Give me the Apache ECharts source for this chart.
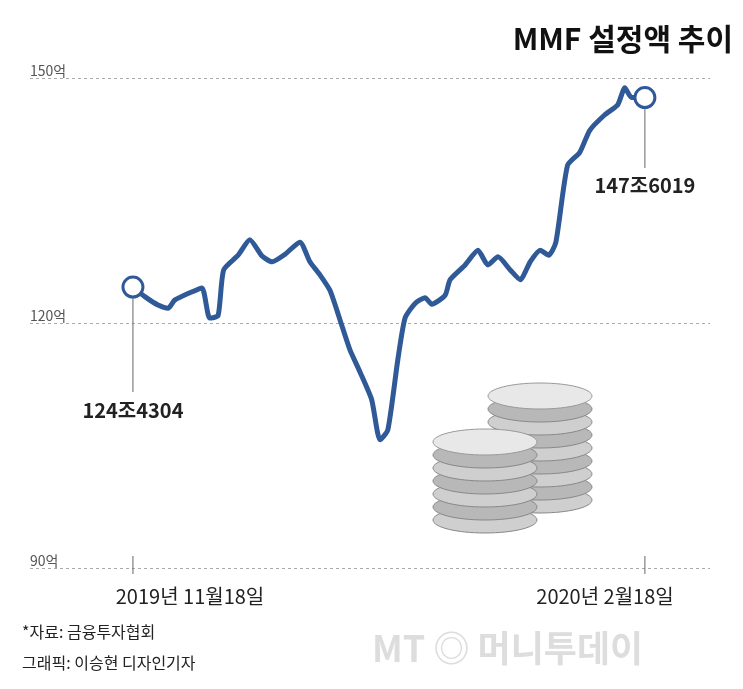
<!DOCTYPE html>
<html>
<head>
<meta charset="utf-8">
<script src="https://cdn.jsdelivr.net/npm/echarts@6/dist/echarts.min.js"></script>
<style>html,body{margin:0;padding:0;background:#fff}#c{width:743px;height:689px}</style>
</head>
<body>
<div id="c"></div>
<script>
// days since 2019-11-18 and fund balance
var days = [0, 2.2, 4.5, 6.3, 7.5, 10.2, 12.4, 13.8, 15.3, 16.3, 18.9, 21, 23.2, 25, 27.3, 30, 31.8, 33.6, 35.4, 37.2, 39, 40.8, 42.9, 44.4, 45.8, 47.6, 48.9, 50.7, 52.5, 53.7, 56.1, 57, 59.7, 62, 63.8, 65.6, 67.8, 69.6, 71.4, 73.2, 74.7, 76, 78.1, 80.3, 82.1, 84.8, 87.1, 88.4, 89.6, 92]
var values = [124.4, 123.2, 122.2, 121.8, 122.8, 123.7, 124.3, 120.6, 120.9, 126.5, 128.3, 130.2, 128.2, 127.5, 128.4, 129.9, 127.5, 125.9, 124.0, 120.4, 116.7, 114.0, 110.6, 105.7, 106.9, 115.5, 120.6, 122.4, 123.1, 122.3, 123.4, 125.3, 127.1, 128.9, 127.1, 128.1, 126.5, 125.3, 127.5, 128.9, 128.3, 129.9, 139.3, 140.9, 143.6, 145.5, 146.7, 148.8, 147.6, 147.6]
var yTicks = [90, 120, 150]
var dateLabels = ['2019년 11월18일', '2020년 2월18일']
var startLabel = '124조4304', endLabel = '147조6019'

var blue = '#2f5a97'
var chart = echarts.init(document.getElementById('c'))
var pts = days.map(function (d, i) { return [d, values[i]] })
var last = pts.length - 1
chart.setOption({
  animation: false,
  textStyle: { fontFamily: 'Noto Sans CJK KR' },
  grid: { left: 30, right: 33, top: 78, bottom: 121 },
  xAxis: { type: 'value', min: -18.5, max: 103.7, show: false },
  yAxis: {
    type: 'value', min: 90, max: 150, interval: 30,
    axisLine: { show: false }, axisTick: { show: false },
    axisLabel: { inside: true, verticalAlign: 'bottom', margin: 0, color: '#555', fontSize: 14,
      formatter: function (v) { return yTicks.indexOf(v) >= 0 ? v + '억' : '' } },
    splitLine: { lineStyle: { color: '#aaa', type: [3, 3] } }
  },
  series: [{
    type: 'line', data: pts, symbol: 'none', smooth: 0.2,
    lineStyle: { color: blue, width: 5 }, z: 3
  }, {
    type: 'scatter', data: [pts[0], pts[last]], symbolSize: 20, z: 4,
    itemStyle: { color: '#fff', borderColor: blue, borderWidth: 3, opacity: 1 }
  }]
})

var p0 = chart.convertToPixel({ gridIndex: 0 }, pts[0])
var p1 = chart.convertToPixel({ gridIndex: 0 }, pts[last])
var axisY = chart.convertToPixel({ gridIndex: 0 }, [0, 90])[1]
var g = [
  { type: 'line', shape: { x1: p0[0], y1: p0[1] + 10, x2: p0[0], y2: 392 }, style: { stroke: '#666', lineWidth: 1 } },
  { type: 'line', shape: { x1: p0[0], y1: axisY - 12, x2: p0[0], y2: axisY + 6 }, style: { stroke: '#666', lineWidth: 1 } },
  { type: 'line', shape: { x1: p1[0], y1: p1[1] + 10, x2: p1[0], y2: 168 }, style: { stroke: '#666', lineWidth: 1 } },
  { type: 'line', shape: { x1: p1[0], y1: axisY - 12, x2: p1[0], y2: axisY + 6 }, style: { stroke: '#666', lineWidth: 1 } },
  { type: 'text', x: p0[0], y: 410, style: { text: startLabel, fill: '#222', font: 'bold 20px "Noto Sans CJK KR"', align: 'center', verticalAlign: 'middle' } },
  { type: 'text', x: p1[0], y: 185, style: { text: endLabel, fill: '#222', font: 'bold 20px "Noto Sans CJK KR"', align: 'center', verticalAlign: 'middle' } },
  { type: 'text', x: 190, y: 596, style: { text: dateLabels[0], fill: '#222', font: '20px "Noto Sans CJK KR"', align: 'center', verticalAlign: 'middle' } },
  { type: 'text', x: 605, y: 596, style: { text: dateLabels[1], fill: '#222', font: '20px "Noto Sans CJK KR"', align: 'center', verticalAlign: 'middle' } },
  { type: 'text', right: 10, top: 24, style: { text: 'MMF 설정액 추이', fill: '#111', font: 'bold 30px "Noto Sans CJK KR"' } },
  { type: 'text', left: 22, top: 624, style: { text: '*자료: 금융투자협회', fill: '#222', font: '16px "Noto Sans CJK KR"' } },
  { type: 'text', left: 22, top: 655, style: { text: '그래픽: 이승현 디자인기자', fill: '#222', font: '16px "Noto Sans CJK KR"' } },
  { type: 'text', left: 372, top: 630, style: { text: 'MT ◎ 머니투데이', fill: '#ddd', font: 'bold 36px "Noto Sans CJK KR"' } }
]
// decorative coin stacks
function stack(cx, baseY, n) {
  for (var i = 0; i < n; i++) {
    g.push({ type: 'ellipse', shape: { cx: cx, cy: baseY - i * 13, rx: 52, ry: 13 },
      style: { fill: i % 2 ? '#b8b8b8' : '#cfcfcf', stroke: '#888', lineWidth: 1 }, z: 1 })
  }
  g.push({ type: 'ellipse', shape: { cx: cx, cy: baseY - n * 13, rx: 52, ry: 13 }, style: { fill: '#e8e8e8', stroke: '#999' }, z: 1 })
}
stack(540, 500, 8)
stack(485, 520, 6)
chart.setOption({ graphic: g })
</script>
</body>
</html>
